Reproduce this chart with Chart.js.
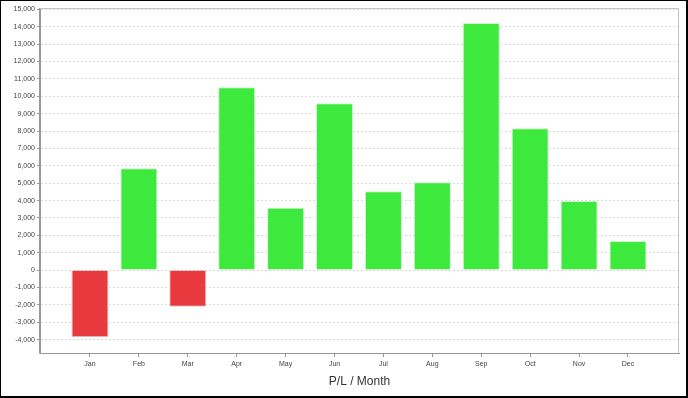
<!DOCTYPE html>
<html>
<head>
<meta charset="utf-8">
<script src="https://cdn.jsdelivr.net/npm/chart.js@4/dist/chart.umd.min.js"></script>
<style>
  html, body { margin: 0; padding: 0; background: #fff; }
  #wrap { width: 688px; height: 398px; position: relative; }
</style>
</head>
<body>
<div id="wrap"><canvas id="chart" width="688" height="398"></canvas></div>
<script>
// P/L per month
const months = ['Jan', 'Feb', 'Mar', 'Apr', 'May', 'Jun', 'Jul', 'Aug', 'Sep', 'Oct', 'Nov', 'Dec'];
const pl = [-3870, 5860, -2110, 10520, 3580, 9600, 4540, 5060, 14210, 8160, 3970, 1680];
const yTicks = [-4000, -3000, -2000, -1000, 0, 1000, 2000, 3000, 4000, 5000, 6000, 7000,
                8000, 9000, 10000, 11000, 12000, 13000, 14000, 15000];

const green = 'rgb(61,233,61)';
const red = 'rgb(232,57,62)';

const frame = {
    id: 'frame',
    afterDraw(chart) {
        const ctx = chart.ctx;
        const a = chart.chartArea;
        ctx.save();
        // light top / right edges of the plot
        ctx.strokeStyle = '#c4c4c4';
        ctx.lineWidth = 1;
        ctx.beginPath();
        ctx.moveTo(a.left, a.top + 0.5);
        ctx.lineTo(a.right - 0.5, a.top + 0.5);
        ctx.lineTo(a.right - 0.5, a.bottom);
        ctx.stroke();
        // axis lines (solid)
        ctx.strokeStyle = '#999';
        ctx.beginPath();
        ctx.moveTo(a.left - 0.5, a.top);
        ctx.lineTo(a.left - 0.5, a.bottom + 0.5);
        ctx.lineTo(a.right, a.bottom + 0.5);
        ctx.stroke();
        // outer black border
        ctx.fillStyle = '#000';
        const w = chart.width, h = chart.height;
        ctx.fillRect(0, 0, w, 1);
        ctx.fillRect(0, 0, 1, h);
        ctx.fillRect(w - 2, 0, 2, h);
        ctx.fillRect(0, h - 2, w, 2);
        ctx.restore();
    }
};

const ctx = document.getElementById('chart').getContext('2d');
const myChart = new Chart(ctx, {
    type: 'bar',
    data: {
        datasets: [{
            data: pl.map((v, i) => ({x: i, y: v})),
            backgroundColor: pl.map(v => v < 0 ? red : green),
            borderColor: pl.map(v => v < 0 ? 'rgba(245,195,195,1)' : 'rgba(205,246,205,1)'),
            borderWidth: 1,
            borderSkipped: 'start',
            categoryPercentage: 1,
            barPercentage: 0.757
        }]
    },
    options: {
        responsive: false,
        animation: false,
        layout: { padding: { top: 8, right: 9, bottom: 0, left: 0 } },
        plugins: {
            legend: { display: false },
            tooltip: { enabled: false }
        },
        scales: {
            x: {
                type: 'linear',
                bounds: 'data',
                offset: false,
                min: -1.022,
                max: 12.043,
                afterBuildTicks: scale => { scale.ticks = months.map((m, i) => ({value: i})); },
                afterFit: scale => { scale.height = 45; },
                grid: { offset: false, drawOnChartArea: false, tickLength: 4, tickColor: '#999' },
                border: { color: '#999' },
                ticks: {
                    autoSkip: false,
                    maxRotation: 0,
                    padding: 3,
                    color: '#444',
                    font: { family: 'Liberation Sans', size: 7 },
                    callback: value => months[value] ?? ''
                },
                title: {
                    display: true,
                    text: 'P/L / Month',
                    color: '#333',
                    font: { family: 'Liberation Sans', size: 12 },
                    padding: { top: 4, bottom: 9 }
                }
            },
            y: {
                bounds: 'data',
                min: -4770,
                max: 15080,
                afterBuildTicks: scale => { scale.ticks = yTicks.map(v => ({value: v})); },
                afterFit: scale => { scale.width = 40; },
                grid: {
                    color: '#dcdcdc',
                    tickColor: '#999',
                    tickLength: 3,
                    tickBorderDash: []
                },
                border: { color: '#999', dash: [2, 2] },
                ticks: {
                    padding: 2,
                    color: '#444',
                    font: { family: 'Liberation Sans', size: 7 },
                    callback: value => value.toLocaleString('en-US')
                }
            }
        }
    },
    plugins: [frame]
});
</script>
</body>
</html>
